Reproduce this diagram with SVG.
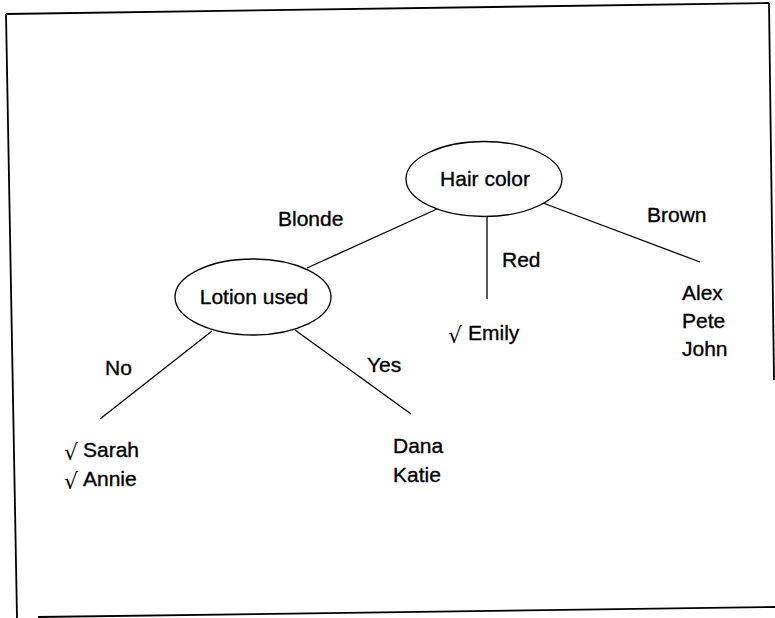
<svg xmlns="http://www.w3.org/2000/svg" width="775" height="618" viewBox="0 0 775 618">
<style>
text { font-family: "Liberation Sans", "DejaVu Sans", Arial, sans-serif; font-size: 21px; fill: #000; stroke: #000; stroke-width: 0.35; }
.chk { font-family: "DejaVu Sans", sans-serif; font-size: 22px; stroke-width: 0; }
.node { fill: #fff; stroke: #000; stroke-width: 1.3; }
.edge { stroke: #000; stroke-width: 1.3; fill: none; }
.frame { stroke: #000; stroke-width: 1.8; fill: none; }
</style>
<rect width="775" height="618" fill="#fff"/>
<g id="frame">
<line class="frame" x1="6" y1="14" x2="769" y2="3"/>
<line class="frame" x1="769" y1="3" x2="774" y2="380"/>
<line class="frame" x1="6" y1="14" x2="17" y2="618"/>
<line class="frame" x1="38" y1="617" x2="775" y2="607"/>
</g>
<g id="connectors">
<line class="edge" x1="437" y1="209" x2="307" y2="268"/>
<line class="edge" x1="487" y1="216" x2="487" y2="299"/>
<line class="edge" x1="543" y1="203" x2="700" y2="262"/>
<line class="edge" x1="212" y1="331" x2="100" y2="419"/>
<line class="edge" x1="295" y1="330" x2="411" y2="414"/>
<text x="278" y="226">Blonde</text>
<text x="502" y="267">Red</text>
<text x="647" y="222">Brown</text>
<text x="105" y="375">No</text>
<text x="367" y="372">Yes</text>
</g>
<g id="hair-color">
<ellipse class="node" cx="484" cy="179" rx="78" ry="37.5"/>
<text x="485" y="186" text-anchor="middle">Hair color</text>
</g>
<g id="lotion-used">
<ellipse class="node" cx="253" cy="297" rx="78" ry="38"/>
<text x="254" y="304" text-anchor="middle">Lotion used</text>
</g>
<g id="leaf-brown">
<text x="682" y="300">Alex</text>
<text x="682" y="328">Pete</text>
<text x="682" y="356">John</text>
</g>
<g id="leaf-red">
<text class="chk" x="448" y="343">√</text>
<text x="468" y="340">Emily</text>
</g>
<g id="leaf-no">
<text class="chk" x="64" y="460">√</text>
<text x="83" y="457">Sarah</text>
<text class="chk" x="64" y="489">√</text>
<text x="83" y="486">Annie</text>
</g>
<g id="leaf-yes">
<text x="393" y="453">Dana</text>
<text x="393" y="482">Katie</text>
</g>
</svg>
